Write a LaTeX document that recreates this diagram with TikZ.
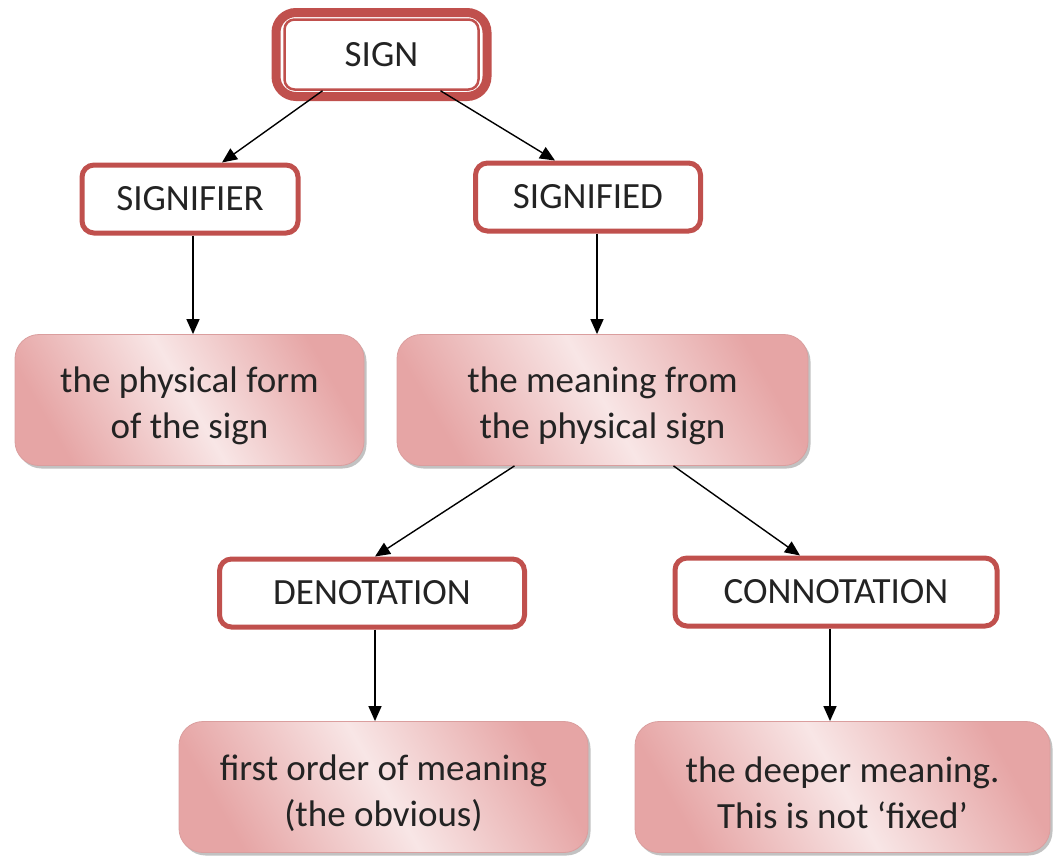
\documentclass[tikz,border=0pt]{standalone}
\usepackage{fontspec}
\setmainfont{Carlito}
\usetikzlibrary{calc,arrows.meta,shadows}
\definecolor{boxred}{RGB}{192,80,77}
\definecolor{pinkdark}{RGB}{230,165,165}
\definecolor{pinklight}{RGB}{248,230,230}
\definecolor{pinkedge}{RGB}{218,158,158}
\definecolor{txt}{RGB}{35,35,35}
\newcommand{\topstrut}{\rule{0pt}{38pt}}
\tikzset{
  every node/.style={font=\fontsize{37}{46}\selectfont, text=txt, align=center},
  labelbox/.style={draw=boxred, line width=5pt, fill=white, rounded corners=12pt,
    minimum height=68pt, inner sep=0pt},
  signouter/.style={draw=boxred, line width=9pt, rounded corners=20pt,
    minimum width=211pt, minimum height=84pt, inner sep=0pt},
  signinner/.style={draw=boxred, line width=2.5pt, fill=white, rounded corners=10pt,
    minimum width=194pt, minimum height=70pt, inner sep=0pt},
  textbox/.style={draw=pinkedge, line width=0.8pt, rounded corners=24pt,
    left color=pinkdark, right color=pinkdark, middle color=pinklight, shading angle=120,
    drop shadow={shadow xshift=2.5pt, shadow yshift=-3pt, opacity=0.4, fill=black!60},
    minimum height=131pt, inner sep=0pt},
  arr/.style={draw=black, line width=1.4pt, -{Triangle[length=15pt,width=13pt]}}
}
\begin{document}
\begin{tikzpicture}[x=1pt,y=-1pt]
\useasboundingbox (0,0) rectangle (1053,857);
% SIGN
\node[signouter] (signo) at (381.5,54.5) {};
\node[signinner] (sign) at (signo.center) {SIGN};
% labels
\node[labelbox, minimum width=216pt] (signifier) at (190,199) {SIGNIFIER};
\node[labelbox, minimum width=225pt] (signified) at (588,197) {SIGNIFIED};
\node[labelbox, minimum width=305pt] (denotation) at (372,593) {DENOTATION};
\node[labelbox, minimum width=322pt] (connotation) at (836,592) {CONNOTATION};
% text boxes
\node[textbox, minimum width=349pt] (physical) at (189.5,400) {\topstrut the physical form\\of the sign};
\node[textbox, minimum width=411pt] (meaning) at (602.5,400) {\topstrut the meaning from\\the physical sign};
\node[textbox, minimum width=409pt] (first) at (383.5,787) {\topstrut first order of meaning\\(the obvious)};
\node[textbox, minimum width=415pt] (deeper) at (842.5,787) {\topstrut the deeper meaning.\\This is not ‘fixed’};
% arrows
\draw[arr] ($(sign.south)+(-59,0)$) -- ($(signifier.north)+(32,0)$);
\draw[arr] ($(sign.south)+(59,0)$) -- ($(signified.north)+(-33,0)$);
\draw[arr] ($(signifier.south)+(3,0)$) -- ($(physical.north)+(3.5,0)$);
\draw[arr] ($(signified.south)+(9,0)$) -- ($(meaning.north)+(-5.5,0)$);
\draw[arr] ($(meaning.south)+(-88,0)$) -- ($(denotation.north)+(3,0)$);
\draw[arr] ($(meaning.south)+(71,0)$) -- ($(connotation.north)+(-36,0)$);
\draw[arr] ($(denotation.south)+(3,0)$) -- ($(first.north)+(-8.5,0)$);
\draw[arr] ($(connotation.south)+(-6,0)$) -- ($(deeper.north)+(-12.5,0)$);
\end{tikzpicture}
\end{document}
